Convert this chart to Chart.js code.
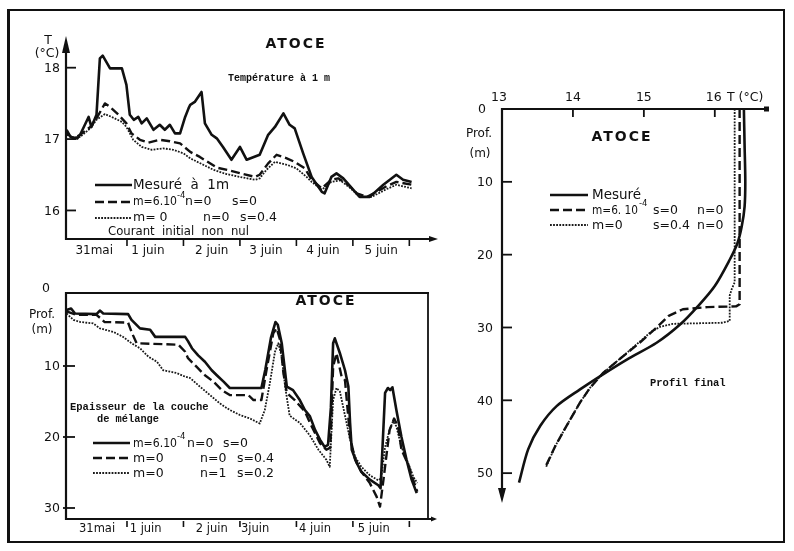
<!DOCTYPE html>
<html>
<head>
<meta charset="utf-8">
<title>ATOCE – température et couche de mélange</title>
<script src="https://cdn.jsdelivr.net/npm/chart.js@4/dist/chart.umd.min.js"></script>
<style>
  html, body { margin: 0; padding: 0; background: #fff; }
  #page { position: relative; width: 794px; height: 551px; overflow: hidden; background: #fff; }
  #page canvas { position: absolute; left: 0; top: 0; }
  #frame { position: absolute; left: 7px; top: 9px; width: 778px; height: 534px;
           border: 2px solid #111; border-left-width: 3px; box-sizing: border-box; }
</style>
</head>
<body>
<div id="page">
  <div id="frame"></div>
  <canvas id="surf" width="794" height="551"></canvas>
  <canvas id="mix" width="794" height="551"></canvas>
  <canvas id="prof" width="794" height="551"></canvas>
</div>
<script>
// ---------- Température à 1 m (jours comptés depuis le 31 mai 0h) ----------
const tempDaysMes = [-0.07,0.0,0.12,0.17,0.32,0.37,0.46,0.52,0.57,0.70,0.91,0.99,1.05,1.12,1.2,1.26,1.35,1.47,1.58,1.67,1.76,1.85,1.94,2.03,2.09,2.12,2.2,2.32,2.38,2.5,2.59,2.70,2.85,3.0,3.12,3.35,3.5,3.62,3.77,3.88,3.97,4.12,4.27,4.45,4.5,4.62,4.71,4.83,5.04,5.12,5.30,5.54,5.77,5.89,6.04];
const tempMes     = [17.13,17.03,17.01,17.06,17.31,17.17,17.34,18.13,18.17,17.99,17.99,17.76,17.34,17.27,17.31,17.22,17.29,17.13,17.20,17.13,17.20,17.08,17.08,17.31,17.43,17.48,17.52,17.66,17.22,17.06,17.01,16.89,16.71,16.89,16.71,16.78,17.06,17.17,17.36,17.20,17.15,16.80,16.47,16.26,16.24,16.47,16.52,16.45,16.26,16.19,16.19,16.36,16.50,16.43,16.40];

const tempDaysM6  = [-0.07,0.05,0.17,0.35,0.46,0.61,0.70,0.85,0.99,1.08,1.23,1.38,1.58,1.76,1.94,2.12,2.29,2.47,2.59,2.82,3.06,3.27,3.35,3.5,3.65,3.83,3.97,4.15,4.27,4.45,4.62,4.74,4.92,5.07,5.25,5.42,5.6,5.77,6.04];
const tempM6      = [17.08,17.01,17.06,17.17,17.29,17.50,17.45,17.34,17.22,17.08,16.99,16.95,16.99,16.97,16.94,16.82,16.75,16.66,16.60,16.56,16.51,16.47,16.50,16.66,16.78,16.73,16.68,16.59,16.43,16.31,16.43,16.45,16.36,16.24,16.19,16.26,16.34,16.40,16.36];

const tempDaysS04 = [-0.07,0.05,0.17,0.35,0.46,0.61,0.73,0.91,0.99,1.11,1.26,1.44,1.64,1.82,2.0,2.12,2.35,2.53,2.76,3.06,3.27,3.35,3.47,3.62,3.83,4.0,4.18,4.27,4.45,4.62,4.78,4.96,5.12,5.33,5.6,5.77,6.04];
const tempS04     = [17.06,17.02,17.03,17.15,17.27,17.35,17.31,17.24,17.17,16.99,16.89,16.85,16.87,16.85,16.80,16.73,16.64,16.57,16.51,16.46,16.43,16.45,16.57,16.68,16.64,16.59,16.47,16.40,16.29,16.40,16.42,16.31,16.19,16.19,16.30,16.36,16.31];

// ---------- Epaisseur de la couche de mélange (m) ----------
const mixDaysA  = [-0.07,0.01,0.08,0.46,0.52,0.58,1.02,1.08,1.23,1.41,1.5,2.03,2.08,2.15,2.26,2.38,2.5,2.59,2.71,2.82,3.38,3.45,3.55,3.63,3.67,3.74,3.83,3.94,4.06,4.15,4.24,4.33,4.42,4.5,4.56,4.61,4.65,4.68,4.77,4.86,4.92,4.95,4.98,5.07,5.15,5.30,5.45,5.49,5.57,5.62,5.66,5.70,5.77,5.86,5.95,6.04,6.13];
const mixDepthA = [2.1,1.9,2.6,2.7,2.2,2.6,2.7,3.5,4.7,4.9,5.9,5.9,6.5,7.5,8.5,9.4,10.6,11.3,12.2,13.1,13.1,10.5,6.0,3.8,4.2,6.8,12.9,13.4,14.8,16.2,17.1,19.0,20.4,21.4,21.1,15.9,6.8,6.1,8.2,10.6,12.9,18.0,21.8,23.7,24.9,26.0,26.8,27.2,13.8,13.1,13.4,13.0,16.2,20.0,23.2,26.0,27.9];

const mixDaysB  = [-0.07,0.1,0.46,0.52,0.6,1.02,1.08,1.17,1.91,2.03,2.08,2.23,2.38,2.53,2.68,2.82,3.15,3.24,3.38,3.47,3.59,3.65,3.71,3.77,3.83,3.97,4.15,4.24,4.42,4.53,4.6,4.65,4.71,4.8,4.86,4.95,5.04,5.15,5.3,5.42,5.48,5.54,5.65,5.73,5.8,5.86,5.98,6.1,6.14];
const mixDepthB = [2.3,2.8,2.8,3.2,3.8,3.9,5.2,6.8,7.0,8.0,8.9,10.1,11.3,12.2,13.4,14.1,14.1,14.8,14.8,10.6,5.4,4.7,6.3,11.0,13.8,14.8,16.4,18.0,20.9,21.8,21.5,10.1,8.2,11.5,12.0,20.0,23.2,24.9,26.5,28.4,29.8,26.1,19.0,17.4,18.5,21.8,23.9,26.8,27.7];

const mixDaysC  = [-0.07,0.05,0.17,0.4,0.52,0.76,0.93,1.08,1.23,1.38,1.53,1.64,1.88,2.03,2.12,2.29,2.47,2.65,2.82,3.0,3.18,3.35,3.44,3.53,3.62,3.68,3.74,3.8,3.88,4.06,4.24,4.39,4.53,4.59,4.65,4.71,4.77,4.89,4.95,5.04,5.15,5.3,5.45,5.5,5.57,5.65,5.71,5.77,5.86,5.98,6.07,6.14];
const mixDepthC = [2.6,3.5,3.8,4.0,4.7,5.2,5.9,6.8,7.5,8.7,9.4,10.6,11.0,11.5,11.7,12.9,14.1,15.3,16.2,16.9,17.4,18.1,16.2,12.4,8.0,6.8,8.7,12.9,17.0,18.0,19.8,21.8,23.2,24.2,14.8,13.1,13.6,18.1,20.4,22.8,24.2,25.4,26.1,25.8,21.4,19.0,17.8,18.5,21.4,23.7,25.6,26.5];

// ---------- Profil final de température ----------
const profTMes  = [16.41,16.42,16.43,16.42,16.38,16.32,16.21,16.0,15.76,15.51,15.18,14.76,14.38,14.1,13.77,13.54,13.37,13.24];
const profZMes  = [0,5,10,13.4,16.1,18.4,20.7,24.3,27.1,29.6,32.1,34.4,36.7,38.5,40.8,43.5,46.7,51.3];
const profTM6   = [16.35,16.35,16.3,15.9,15.55,15.35,15.18,14.94,14.65,14.43,14.24,14.1,13.91,13.75,13.61];
const profZM6   = [0,26.8,27.1,27.2,27.5,28.4,30,32.1,34.4,36.2,38.3,40.3,43.5,46.3,49.2];
const profTS04  = [16.28,16.28,16.24,16.21,16.21,16.1,15.41,15.23,15.1,14.9,14.65,14.43,14.24,14.1,13.91,13.75,13.62];
const profZS04  = [0,23.8,24.7,25.6,29.1,29.35,29.5,29.9,30.6,32.3,34.4,36.2,38.3,40.3,43.5,46.3,49.2];

// ---------- Graduations et libellés ----------
const tempTicks   = [16, 17, 18];
const depthTicks  = [10, 20, 30];
const profDepthTicks = [10, 20, 30, 40, 50];
const profTempTicks  = [13, 14, 15, 16];
const dayTicks    = [1, 2, 3, 4, 5, 6];
const dayLabelsTop = ['31mai', '1 juin', '2 juin', '3 juin', '4 juin', '5 juin'];
const dayLabelsMix = ['31mai', '1 juin', '2 juin', '3juin', '4 juin', '5 juin'];
const dayLabelAtTop = [0.42, 1.37, 2.5, 3.46, 4.47, 5.5];
const dayLabelAtMix = [0.47, 1.33, 2.5, 3.27, 4.33, 5.37];

// ---------- Mise en forme ----------
const W = 794, H = 551;
const INK = '#111';
const SANS = "'DejaVu Sans', sans-serif";
const MONO = "'Liberation Mono', 'DejaVu Sans Mono', monospace";
const solidStyle  = { borderColor: INK, borderWidth: 2.6, borderDash: [] };
const dashedStyle = { borderColor: INK, borderWidth: 2.4, borderDash: [9, 4] };
const dottedStyle = { borderColor: '#1a1a1a', borderWidth: 1.8, borderDash: [1.8, 1.3] };

function pts(xs, ys) { return xs.map((x, i) => ({ x, y: ys[i] })); }
function series(label, xs, ys, style, tension) {
  return Object.assign({ label, data: pts(xs, ys), fill: false, pointRadius: 0,
    tension: tension || 0, borderCapStyle: 'butt', borderJoinStyle: 'round' }, style);
}

// drawing helpers for axes and annotations
function seg(ctx, x1, y1, x2, y2, w) {
  ctx.save(); ctx.lineWidth = w || 2; ctx.strokeStyle = INK; ctx.setLineDash([]);
  ctx.beginPath(); ctx.moveTo(x1, y1); ctx.lineTo(x2, y2); ctx.stroke(); ctx.restore();
}
function tri(ctx, p) {
  ctx.save(); ctx.fillStyle = INK; ctx.beginPath();
  ctx.moveTo(p[0], p[1]); ctx.lineTo(p[2], p[3]); ctx.lineTo(p[4], p[5]); ctx.closePath();
  ctx.fill(); ctx.restore();
}
function txt(ctx, s, x, y, font, align, maxW, spacing) {
  ctx.save(); ctx.fillStyle = INK; ctx.font = font; ctx.textAlign = align || 'left';
  ctx.textBaseline = 'middle';
  if (spacing) ctx.letterSpacing = spacing;
  if (maxW) ctx.fillText(s, x, y, maxW); else ctx.fillText(s, x, y);
  ctx.restore();
}
function legendLine(ctx, ds, x1, x2, y) {
  ctx.save(); ctx.strokeStyle = ds.borderColor; ctx.lineWidth = ds.borderWidth;
  ctx.setLineDash(ds.borderDash || []); ctx.beginPath(); ctx.moveTo(x1, y); ctx.lineTo(x2, y);
  ctx.stroke(); ctx.restore();
}
const F = s => s + 'px ' + SANS;

function makeChart(id, area, xr, yr, reverseY, datasets, decorate) {
  return new Chart(document.getElementById(id), {
    type: 'line',
    data: { datasets },
    options: {
      responsive: false, animation: false, devicePixelRatio: 1,
      layout: { padding: { left: area[0], top: area[1], right: W - area[2], bottom: H - area[3] } },
      scales: {
        x: { type: 'linear', min: xr[0], max: xr[1], display: false },
        y: { type: 'linear', min: yr[0], max: yr[1], reverse: reverseY, display: false }
      },
      plugins: { legend: { display: false }, tooltip: { enabled: false } },
      events: []
    },
    plugins: [{ id: 'decor_' + id, afterDraw: c => decorate(c, c.ctx) }]
  });
}

// ---------- Panneau 1 : température à 1 m ----------
makeChart('surf', [66, 42, 437, 239], [-0.08, 6.49], [15.6, 18.36], false, [
  series('Mesuré à 1m', tempDaysMes, tempMes, solidStyle),
  series('m=6.10-4 n=0 s=0', tempDaysM6, tempM6, dashedStyle),
  series('m=0 n=0 s=0.4', tempDaysS04, tempS04, dottedStyle)
], (c, ctx) => {
  const X = v => c.scales.x.getPixelForValue(v), Y = v => c.scales.y.getPixelForValue(v);
  const a = c.chartArea, ds = c.data.datasets;
  seg(ctx, a.left, a.bottom + 1, a.left, a.top + 8, 2.2);
  tri(ctx, [a.left - 4, a.top + 11, a.left + 4, a.top + 11, a.left, a.top - 6]);
  seg(ctx, a.left - 1, a.bottom, a.right - 6, a.bottom, 2.2);
  tri(ctx, [a.right - 8, a.bottom - 3, a.right - 8, a.bottom + 3, a.right + 1, a.bottom]);
  tempTicks.forEach(t => {
    seg(ctx, a.left, Y(t), a.left + 10, Y(t), 1.8);
    txt(ctx, String(t), a.left - 6, Y(t) + 1, F(12.5), 'right');
  });
  dayTicks.forEach(d => seg(ctx, X(d), a.bottom, X(d), a.bottom + 7, 1.6));
  dayLabelsTop.forEach((s, i) => txt(ctx, s, X(dayLabelAtTop[i]), a.bottom + 12, F(12), 'center'));
  txt(ctx, 'T', a.left - 18, 41, F(12.5), 'center');
  txt(ctx, '(°C)', a.left - 19, 54, F(12.5), 'center');
  txt(ctx, 'ATOCE', 296, 44, 'bold ' + F(14), 'center', null, '2px');
  txt(ctx, 'Température à 1 m', 279, 78, 'bold 10px ' + MONO, 'center', 110);
  // légende
  legendLine(ctx, ds[0], 95, 132, 185);
  txt(ctx, 'Mesuré  à  1m', 133, 185, F(13.5), 'left', 96);
  legendLine(ctx, ds[1], 95, 132, 202);
  txt(ctx, 'm=6.10', 133, 202, F(12.5), 'left', 44);
  txt(ctx, '-4', 177, 196, F(8.5), 'left');
  txt(ctx, 'n=0', 185, 202, F(12.5), 'left', 28);
  txt(ctx, 's=0', 232, 202, F(12.5), 'left', 31);
  legendLine(ctx, ds[2], 95, 132, 218);
  txt(ctx, 'm= 0', 133, 218, F(12.5), 'left', 40);
  txt(ctx, 'n=0', 203, 218, F(12.5), 'left', 30);
  txt(ctx, 's=0.4', 240, 218, F(12.5), 'left', 38);
  txt(ctx, 'Courant  initial  non  nul', 108, 232, F(12.5), 'left', 141);
});

// ---------- Panneau 2 : épaisseur de la couche de mélange ----------
makeChart('mix', [66, 293, 428, 519], [-0.08, 6.33], [-0.28, 31.55], true, [
  series('m=6.10-4 n=0 s=0', mixDaysA, mixDepthA, solidStyle),
  series('m=0 n=0 s=0.4', mixDaysB, mixDepthB, dashedStyle),
  series('m=0 n=1 s=0.2', mixDaysC, mixDepthC, dottedStyle)
], (c, ctx) => {
  const X = v => c.scales.x.getPixelForValue(v), Y = v => c.scales.y.getPixelForValue(v);
  const a = c.chartArea, ds = c.data.datasets;
  seg(ctx, a.left, a.top - 1, a.left, a.bottom + 1, 2.2);
  seg(ctx, a.left - 1, a.top, a.right + 1, a.top, 1.8);
  seg(ctx, a.right, a.top - 1, a.right, a.bottom, 1.8);
  seg(ctx, a.left - 1, a.bottom, a.right + 6, a.bottom, 2.2);
  tri(ctx, [a.right + 3, a.bottom - 2.5, a.right + 3, a.bottom + 2.5, a.right + 9, a.bottom]);
  depthTicks.forEach(z => {
    seg(ctx, a.left - 3, Y(z), a.left + 9, Y(z), 1.8);
    txt(ctx, String(z), a.left - 6, Y(z) + 1, F(12.5), 'right');
  });
  txt(ctx, '0', a.left - 16, Y(0) - 6, F(12.5), 'right');
  txt(ctx, 'Prof.', 42, 315, F(12), 'center');
  txt(ctx, '(m)', 42, 330, F(12), 'center');
  dayTicks.forEach(d => seg(ctx, X(d), a.bottom + 2, X(d), a.bottom + 8, 1.6));
  dayLabelsMix.forEach((s, i) => txt(ctx, s, X(dayLabelAtMix[i]), a.bottom + 10, F(11.5), 'center'));
  txt(ctx, 'ATOCE', 326, 301, 'bold ' + F(14), 'center', null, '2px');
  txt(ctx, 'Epaisseur de la couche', 70, 407, 'bold 10.5px ' + MONO, 'left', 144);
  txt(ctx, 'de mélange', 97, 419, 'bold 10.5px ' + MONO, 'left', 62);
  // légende
  legendLine(ctx, ds[0], 93, 130, 443);
  txt(ctx, 'm=6.10', 133, 444, F(12.5), 'left', 44);
  txt(ctx, '-4', 177, 437, F(8.5), 'left');
  txt(ctx, 'n=0', 187, 444, F(12.5), 'left', 29);
  txt(ctx, 's=0', 223, 444, F(12.5), 'left', 30);
  legendLine(ctx, ds[1], 93, 130, 458);
  txt(ctx, 'm=0', 133, 459, F(12.5), 'left', 40);
  txt(ctx, 'n=0', 200, 459, F(12.5), 'left', 30);
  txt(ctx, 's=0.4', 237, 459, F(12.5), 'left', 38);
  legendLine(ctx, ds[2], 93, 130, 473);
  txt(ctx, 'm=0', 133, 474, F(12.5), 'left', 40);
  txt(ctx, 'n=1', 200, 474, F(12.5), 'left', 30);
  txt(ctx, 's=0.2', 237, 474, F(12.5), 'left', 38);
});

// ---------- Panneau 3 : profil final ----------
makeChart('prof', [502, 109, 768, 503], [13, 16.75], [0, 54.1], true, [
  series('Mesuré', profTMes, profZMes, solidStyle, 0.3),
  series('m=6.10-4 s=0 n=0', profTM6, profZM6, dashedStyle),
  series('m=0 s=0.4 n=0', profTS04, profZS04, dottedStyle)
], (c, ctx) => {
  const X = v => c.scales.x.getPixelForValue(v), Y = v => c.scales.y.getPixelForValue(v);
  const a = c.chartArea, ds = c.data.datasets;
  seg(ctx, a.left - 1, a.top, a.right - 3, a.top, 2.2);
  ctx.save(); ctx.fillStyle = INK; ctx.fillRect(a.right - 4, a.top - 2.5, 5, 5); ctx.restore();
  seg(ctx, a.left, a.top - 1, a.left, a.bottom - 10, 2.2);
  tri(ctx, [a.left - 4, a.bottom - 15, a.left + 4, a.bottom - 15, a.left, a.bottom]);
  profTempTicks.forEach(t => {
    if (t > 13) seg(ctx, X(t), a.top, X(t), a.top + 8, 1.8);
  });
  txt(ctx, '13', X(13) - 3, 98, F(12.5), 'center');
  txt(ctx, '14', X(14), 98, F(12.5), 'center');
  txt(ctx, '15', X(15), 98, F(12.5), 'center');
  txt(ctx, '16', X(16) - 1, 98, F(12.5), 'center');
  txt(ctx, 'T (°C)', 727, 98, F(12.5), 'left');
  profDepthTicks.forEach(z => {
    seg(ctx, a.left, Y(z), a.left + 10, Y(z), 1.8);
    txt(ctx, String(z), a.left - 9, Y(z) + 1, F(12.5), 'right');
  });
  txt(ctx, '0', a.left - 16, Y(0) + 1, F(12.5), 'right');
  txt(ctx, 'Prof.', 479, 134, F(12), 'center');
  txt(ctx, '(m)', 480, 154, F(12), 'center');
  txt(ctx, 'ATOCE', 622, 137, 'bold ' + F(14), 'center', null, '2px');
  txt(ctx, 'Profil final', 650, 383, 'bold 10.5px ' + MONO, 'left', 78);
  // légende
  legendLine(ctx, ds[0], 550, 588, 195);
  txt(ctx, 'Mesuré', 592, 195, F(13.5), 'left', 50);
  legendLine(ctx, ds[1], 550, 588, 210);
  txt(ctx, 'm=6. 10', 592, 211, F(12.5), 'left', 46);
  txt(ctx, '-4', 639, 204, F(8.5), 'left');
  txt(ctx, 's=0', 653, 211, F(12.5), 'left', 28);
  txt(ctx, 'n=0', 697, 211, F(12.5), 'left', 27);
  legendLine(ctx, ds[2], 550, 588, 225);
  txt(ctx, 'm=0', 592, 226, F(12.5), 'left', 34);
  txt(ctx, 's=0.4', 653, 226, F(12.5), 'left', 40);
  txt(ctx, 'n=0', 697, 226, F(12.5), 'left', 27);
});
</script>
</body>
</html>
